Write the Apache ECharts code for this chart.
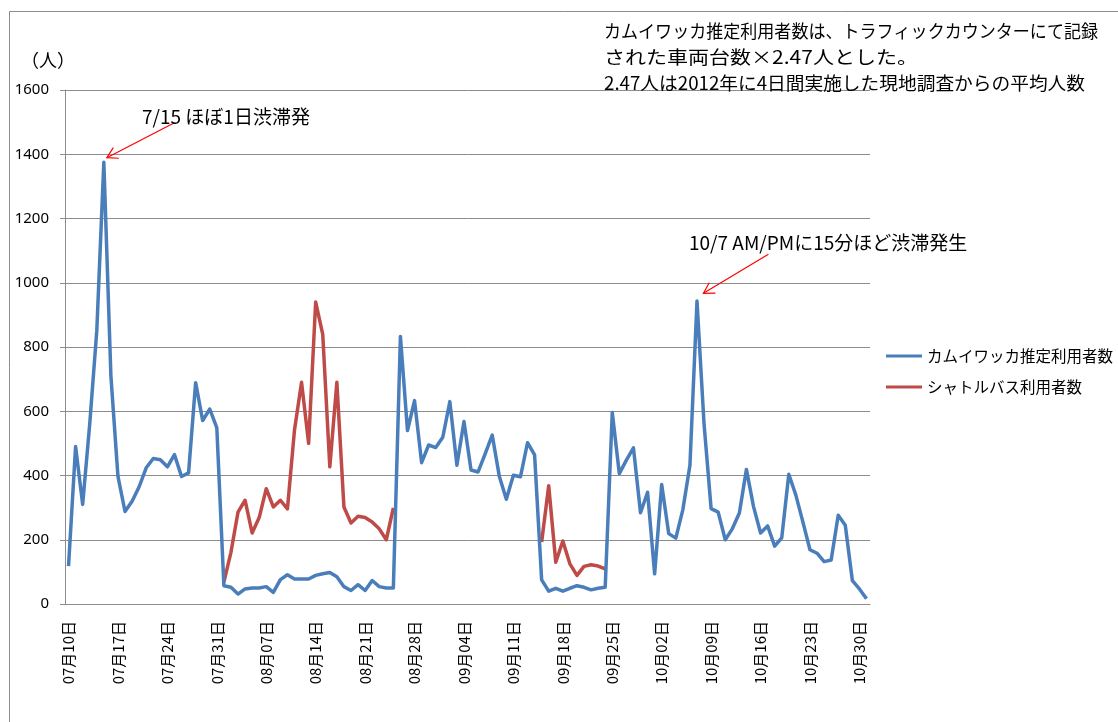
<!DOCTYPE html>
<html><head><meta charset="utf-8">
<script src="https://cdn.jsdelivr.net/npm/echarts@6/dist/echarts.min.js"></script>
<style>html,body{margin:0;padding:0;background:#fff}#c{width:1118px;height:722px}</style>
</head><body><div id="c"></div>
<script>
const categories = [
'07月10日','07月11日','07月12日','07月13日','07月14日','07月15日','07月16日','07月17日','07月18日','07月19日','07月20日','07月21日','07月22日','07月23日','07月24日','07月25日','07月26日','07月27日','07月28日','07月29日','07月30日','07月31日',
'08月01日','08月02日','08月03日','08月04日','08月05日','08月06日','08月07日','08月08日','08月09日','08月10日','08月11日','08月12日','08月13日','08月14日','08月15日','08月16日','08月17日','08月18日','08月19日','08月20日','08月21日','08月22日','08月23日','08月24日','08月25日','08月26日','08月27日','08月28日','08月29日','08月30日','08月31日',
'09月01日','09月02日','09月03日','09月04日','09月05日','09月06日','09月07日','09月08日','09月09日','09月10日','09月11日','09月12日','09月13日','09月14日','09月15日','09月16日','09月17日','09月18日','09月19日','09月20日','09月21日','09月22日','09月23日','09月24日','09月25日','09月26日','09月27日','09月28日','09月29日','09月30日',
'10月01日','10月02日','10月03日','10月04日','10月05日','10月06日','10月07日','10月08日','10月09日','10月10日','10月11日','10月12日','10月13日','10月14日','10月15日','10月16日','10月17日','10月18日','10月19日','10月20日','10月21日','10月22日','10月23日','10月24日','10月25日','10月26日','10月27日','10月28日','10月29日','10月30日','10月31日'
];
const kamuiwakka = [
118,490,310,560,850,1375,710,397,288,320,365,424,453,449,427,465,397,408,689,571,607,548,
57,52,31,47,50,50,54,36,76,91,78,78,78,89,94,98,85,54,42,60,42,73,54,50,50,833,540,633,440,495,487,
519,630,432,568,417,411,467,526,398,326,401,396,502,464,75,40,49,40,49,57,52,44,49,52,596,406,448,486,284,348,
94,372,219,205,294,432,943,560,297,286,200,234,283,419,304,221,243,180,206,404,339,255,169,158,132,137,276,245,73,47,16
];
const shuttle = [
null,null,null,null,null,null,null,null,null,null,null,null,null,null,null,null,null,null,null,null,null,null,
68,161,286,323,221,269,359,302,323,296,542,690,500,940,839,427,690,302,252,273,269,255,234,200,299,null,null,null,null,null,null,
null,null,null,null,null,null,null,null,null,null,null,null,null,null,193,368,130,196,125,89,117,122,118,109,null,null,null,null,null,null,
null,null,null,null,null,null,null,null,null,null,null,null,null,null,null,null,null,null,null,null,null,null,null,null,null,null,null,null,null,null,null
];
const seriesNames = ['カムイワッカ推定利用者数','シャトルバス利用者数'];
const yTicks = {min:0, max:1600, interval:200};
const noteLines = ['カムイワッカ推定利用者数は、トラフィックカウンターにて記録','された車両台数×2.47人とした。','2.47人は2012年に4日間実施した現地調査からの平均人数'];
const annotations = [
  {text:'7/15 ほぼ1日渋滞発', index:5, series:0},
  {text:'10/7 AM/PMに15分ほど渋滞発生', index:89, series:0}
];
const unitLabel = '（人）';

const JP = '"Noto Sans CJK JP", "Noto Sans", sans-serif';
const chart = echarts.init(document.getElementById('c'), null, {renderer:'canvas'});
const gridColor = '#8c8c8c';
chart.setOption({
  animation:false,
  backgroundColor:'#fff',
  textStyle:{fontFamily:JP},
  grid:{left:65, right:248, top:90, bottom:118},
  legend:{
    orient:'vertical', left:881, top:341, icon:'rect', itemWidth:36, itemHeight:3, itemGap:11,
    textStyle:{fontSize:15.5, color:'#000', lineHeight:20, fontFamily:JP},
    data:seriesNames
  },
  xAxis:{
    type:'category', data:categories, boundaryGap:true,
    axisLine:{lineStyle:{color:gridColor}},
    axisTick:{interval:6, length:5, lineStyle:{color:gridColor}},
    axisLabel:{interval:6, rotate:90, margin:17, fontSize:15, color:'#000', fontFamily:JP},
    splitLine:{show:false}
  },
  yAxis:{
    type:'value', min:yTicks.min, max:yTicks.max, interval:yTicks.interval,
    axisLine:{show:true, lineStyle:{color:gridColor}},
    axisTick:{show:true, length:5, lineStyle:{color:gridColor}},
    axisLabel:{margin:16, fontSize:15, color:'#000', fontFamily:'"Noto Sans", sans-serif', formatter:v=>String(v)},
    splitLine:{lineStyle:{color:gridColor, width:1}}
  },
  series:[
    {name:seriesNames[0], type:'line', data:kamuiwakka, symbol:'none', color:'#4A7EBB',
     lineStyle:{width:3.5, color:'#4A7EBB', join:'round'}, z:3},
    {name:seriesNames[1], type:'line', data:shuttle, symbol:'none', color:'#BE4B48', connectNulls:false,
     lineStyle:{width:3.5, color:'#BE4B48', join:'round'}, z:2}
  ]
});

function arrow(tip, start){
  const ang = Math.atan2(start[1]-tip[1], start[0]-tip[0]);
  const L = 12, a = Math.PI/6;
  const p1 = [tip[0]+L*Math.cos(ang+a), tip[1]+L*Math.sin(ang+a)];
  const p2 = [tip[0]+L*Math.cos(ang-a), tip[1]+L*Math.sin(ang-a)];
  const st = {stroke:'#FF0000', lineWidth:1.2};
  return [
    {type:'line', shape:{x1:start[0],y1:start[1],x2:tip[0],y2:tip[1]}, style:st, z:10},
    {type:'polyline', shape:{points:[p1, tip, p2]}, style:Object.assign({fill:null},st), z:10}
  ];
}
const measureCtx = document.createElement('canvas').getContext('2d');
const noteFont = '18px ' + JP;
measureCtx.font = noteFont;
const noteTargetWidths = [494, 314, 481];
const seriesData = [kamuiwakka, shuttle];
const tipOffsets = [[3,-4.6],[6.4,-7.8]];
const startOffsets = [[66.6,-34.4],[65,-39]];
const textPos = [[142,117],[689,243]];
let g = [
  {type:'rect', shape:{x:9.5,y:11.5,width:1200,height:800}, style:{fill:null, stroke:'#8c8c8c', lineWidth:1}, z:0},
  {type:'text', left:21, top:51, style:{text:unitLabel, font:'18px '+JP, fill:'#000'}},
];
noteLines.forEach((t,i)=>{
  const w = measureCtx.measureText(t).width;
  const s = noteTargetWidths[i] / w;
  g.push({type:'text', x:604, y:31+i*26, scaleX:s, style:{text:t, font:noteFont, fill:'#000', verticalAlign:'middle'}, z:20});
});
annotations.forEach((an,i)=>{
  const p = chart.convertToPixel({xAxisIndex:0,yAxisIndex:0},[an.index, seriesData[an.series][an.index]]);
  const tip = [p[0]+tipOffsets[i][0], p[1]+tipOffsets[i][1]];
  const start = [tip[0]+startOffsets[i][0], tip[1]+startOffsets[i][1]];
  g = g.concat(arrow(tip,start));
  g.push({type:'text', x:textPos[i][0], y:textPos[i][1], style:{text:an.text, font:'19px '+JP, fill:'#000', verticalAlign:'middle'}, z:20});
});
chart.setOption({graphic:g});
</script></body></html>
